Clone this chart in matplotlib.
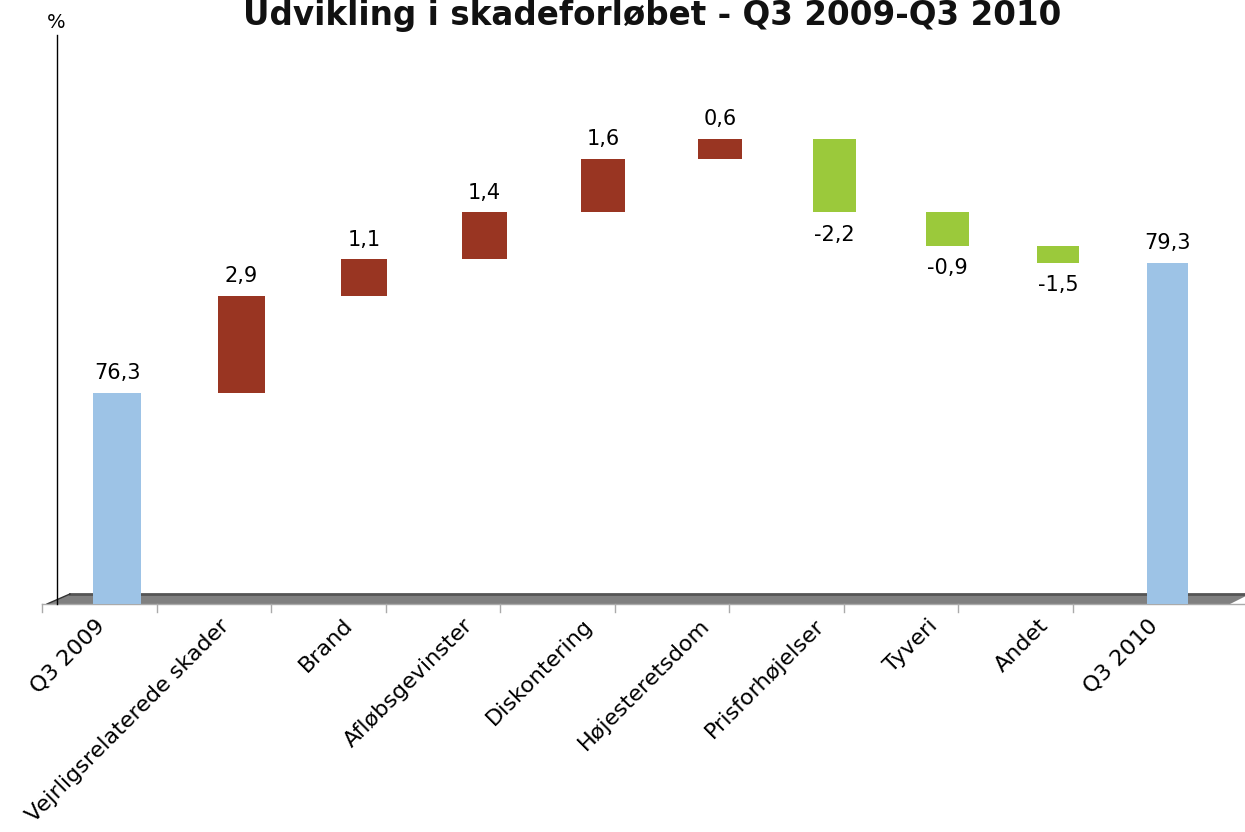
import matplotlib.pyplot as plt
import numpy as np
from matplotlib.patches import Polygon

plt.rcParams['font.family'] = 'DejaVu Sans'

# Data (heights as drawn in the original chart, labels as printed on it)
categories = ["Q3 2009", "Vejrligsrelaterede skader", "Brand", "Afløbsgevinster",
              "Diskontering", "Højesteretsdom", "Prisforhøjelser", "Tyveri",
              "Andet", "Q3 2010"]
start_value = 76.3
changes = [2.9, 1.1, 1.4, 1.6, 0.6, -2.2, -1.0, -0.5]
value_labels = ["76,3", "2,9", "1,1", "1,4", "1,6", "0,6", "-2,2", "-0,9", "-1,5", "79,3"]

y_min, y_max = 70, 87

c_total = '#9DC3E6'
c_up = '#993522'
c_down = '#9BC93B'

W, H = 1245, 832
fig = plt.figure(figsize=(W / 100, H / 100), dpi=100)
ax = fig.add_axes([57 / W, 228 / H, 1188 / W, 569 / H])

# the original 3-D floor has slight perspective: categories get closer to the right
q = 0.00771
def fwd(x):
    return x - q * np.asarray(x) ** 2
def inv(u):
    return (1 - np.sqrt(np.clip(1 - 4 * q * np.asarray(u), 0, None))) / (2 * q)

ax.set_xscale('function', functions=(fwd, inv))
ax.set_xlim(-0.477, 9.724)
ax.set_ylim(y_min, y_max)

x = np.arange(len(categories))
levels = start_value + np.concatenate([[0], np.cumsum(changes)])
end_value = levels[-1]

bottoms = [y_min] + list(levels[:-1]) + [y_min]
heights = [start_value - y_min] + changes + [end_value - y_min]
colors = [c_total] + [c_up if c > 0 else c_down for c in changes] + [c_total]

# floor (axes coordinates)
floor = Polygon([(-0.0084, 0), (0.9874, 0), (1.0042, 0.0176), (0.0109, 0.0176)],
                closed=True, transform=ax.transAxes, facecolor='#808080',
                edgecolor='none', clip_on=False, zorder=1)
ax.add_patch(floor)
ax.plot([0.0109, 1.0042], [0.0176, 0.0176], transform=ax.transAxes, color='#555555',
        lw=2, clip_on=False, zorder=1.5)
ax.plot([-0.0084, 0.0109], [0, 0.0176], transform=ax.transAxes, color='#333333',
        lw=1, clip_on=False, zorder=1.5)
ax.plot([-0.0126, 1.0], [0, 0], transform=ax.transAxes, color='#AAAAAA',
        lw=1, clip_on=False, zorder=1.5)
for k in range(len(categories)):
    xt = (42 + 114.5 * k - 57) / 1188
    ax.plot([xt, xt], [0, -0.014], transform=ax.transAxes, color='#AAAAAA',
            lw=1, clip_on=False)

ax.bar(x, heights, bottom=bottoms, width=0.38, color=colors, zorder=2)

# value labels
for i, (b, h, lab) in enumerate(zip(bottoms, heights, value_labels)):
    if h >= 0:
        ax.annotate(lab, (i, b + h), xytext=(0, 7), textcoords='offset points',
                    ha='center', va='bottom', fontsize=15)
    else:
        ax.annotate(lab, (i, b + h), xytext=(0, -9), textcoords='offset points',
                    ha='center', va='top', fontsize=15)

# category labels
for i, name in enumerate(categories):
    ax.text(i - 0.12, -0.032, name, transform=ax.get_xaxis_transform(),
            rotation=45, ha='right', va='center', rotation_mode='anchor',
            fontsize=16, clip_on=False)

ax.set_xticks([])
ax.set_yticks([])
for s in ['top', 'right', 'bottom']:
    ax.spines[s].set_visible(False)
ax.spines['left'].set_color('black')
ax.spines['left'].set_linewidth(1)

fig.text(652 / W, 1 - 25 / H, 'Udvikling i skadeforløbet - Q3 2009-Q3 2010',
         ha='center', va='baseline', fontsize=23.5, fontweight='bold', color='#111111')
fig.text(56 / W, 1 - 22 / H, '%', ha='center', va='center', fontsize=14)

fig.savefig('out.png', dpi=100, facecolor='white')
